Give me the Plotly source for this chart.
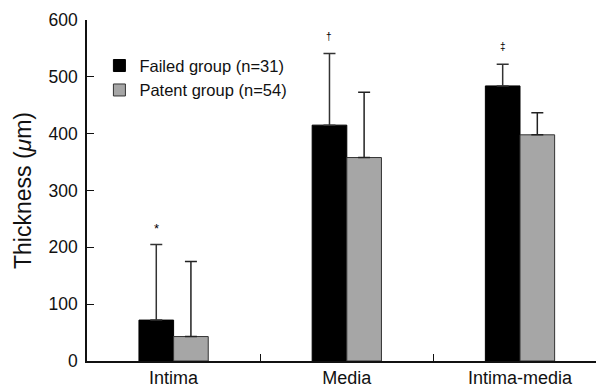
import plotly.graph_objects as go

categories = ["Intima", "Media", "Intima-media"]
failed_mean = [72, 415, 484]
failed_sd = [133, 126, 38]
patent_mean = [43, 358, 398]
patent_sd = [132, 115, 39]
markers = ["*", "†", "‡"]

FONT = "Liberation Sans, Arial, sans-serif"

fig = go.Figure()
fig.add_trace(go.Bar(
    x=categories, y=failed_mean, name="Failed group (n=31)", legendgroup="a",
    marker=dict(color="#000000", line=dict(color="#000000", width=1)),
    error_y=dict(type="data", array=failed_sd, symmetric=False, arrayminus=[0, 0, 0],
                 color="#333333", thickness=1.5, width=6),
))
fig.add_trace(go.Bar(
    x=categories, y=patent_mean, name="Patent group (n=54)", legendgroup="b",
    marker=dict(color="#a6a6a6", line=dict(color="#333333", width=1)),
    error_y=dict(type="data", array=patent_sd, symmetric=False, arrayminus=[0, 0, 0],
                 color="#222222", thickness=1.5, width=6),
))

for i, (m, s, t) in enumerate(zip(failed_mean, failed_sd, markers)):
    fig.add_annotation(x=i - 0.1, y=m + s, text=t, showarrow=False,
                       xref="x", yref="y", yanchor="bottom",
                       yshift=6 if t == "*" else 10,
                       font=dict(family=FONT, size=13 if t == "*" else 10, color="#000000"))

fig.update_layout(
    width=596, height=384,
    margin=dict(l=79, r=0, t=12, b=31),
    paper_bgcolor="white", plot_bgcolor="white",
    barmode="group", bargap=0.6, bargroupgap=0,
    font=dict(family=FONT, size=17, color="#111111"),
    showlegend=True,
    legend=dict(x=0.024, y=0.917, xanchor="left", yanchor="top",
                font=dict(family=FONT, size=16.5, color="#111111"),
                tracegroupgap=0, bgcolor="rgba(0,0,0,0)"),
    xaxis=dict(type="category", range=[-0.5, 2.485], showline=True, linecolor="#111111",
               linewidth=1.5, ticks="inside", tickson="boundaries", ticklen=7,
               tickcolor="#111111", tickwidth=1, showgrid=False, zeroline=False,
               tickfont=dict(family=FONT, size=18, color="#111111")),
    yaxis=dict(range=[0, 600], tickvals=[0, 100, 200, 300, 400, 500, 600],
               showline=True, linecolor="#111111", linewidth=1.5, ticks="inside",
               ticklen=7, tickcolor="#111111", tickwidth=1, showgrid=False, zeroline=False,
               ticklabelstandoff=4,
               tickfont=dict(family=FONT, size=17.5, color="#111111"),
               title=dict(text="Thickness (<i>μ</i>m)", standoff=10,
                          font=dict(family=FONT, size=23, color="#111111"))),
)

fig.write_html("out.html")
